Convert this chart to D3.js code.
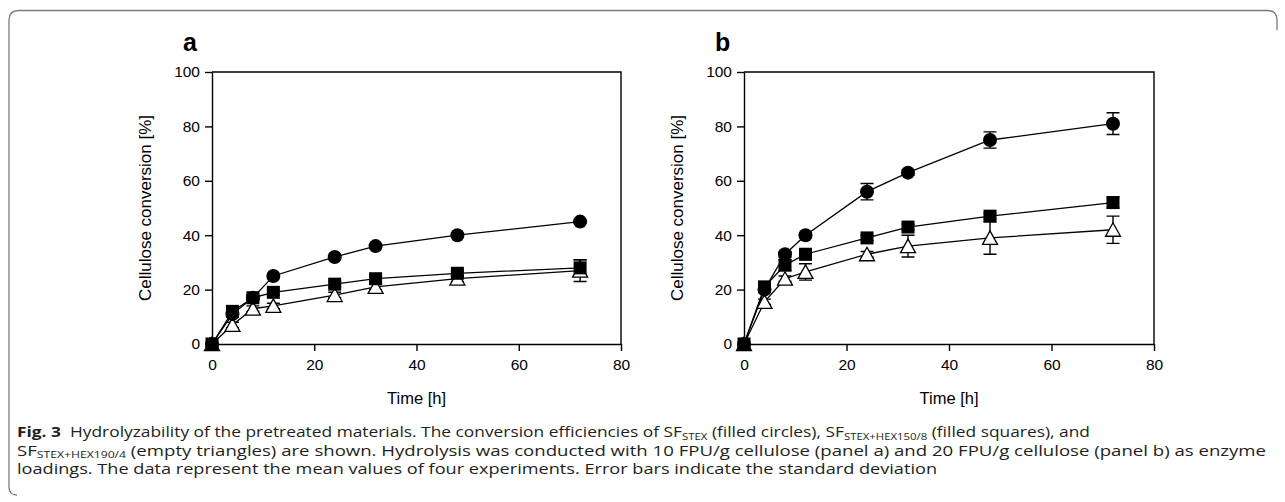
<!DOCTYPE html>
<html><head><meta charset="utf-8">
<script src="https://cdn.jsdelivr.net/npm/d3@7/dist/d3.min.js"></script>
<style>
html,body{margin:0;padding:0;background:#fff;}
svg{display:block;}
</style></head>
<body>
<svg id="c" width="1285" height="502"></svg>
<script>
const times = [0, 4, 8, 12, 24, 32, 48, 72];
const xTicks = [0, 20, 40, 60, 80];
const yTicks = [0, 20, 40, 60, 80, 100];

// Panel a (10 FPU/g)
const aCircle    = [0, 11, 17, 25, 32, 36, 40, 45];
const aCircleErr = [0, 0.5, 0.5, 0.5, 0.5, 0.5, 0.5, 0.5];
const aSquare    = [0, 12, 17, 19, 22, 24, 26, 28];
const aSquareErr = [0, 1, 1, 1, 1, 1, 1, 3];
const aTri       = [0, 7, 13, 14, 18, 21, 24, 27];
const aTriErr    = [0, 1, 1, 1, 1, 1, 1, 4];

// Panel b (20 FPU/g)
const bCircle    = [0, 20, 33, 40, 56, 63, 75, 81];
const bCircleErr = [0, 1, 1, 1, 3, 1, 3, 4];
const bSquare    = [0, 21, 29, 33, 39, 43, 47, 52];
const bSquareErr = [0, 1, 2, 2, 1, 1, 1, 2];
const bTri       = [0, 15.5, 24, 26.5, 33, 36, 39, 42];
const bTriErr    = [0, 1, 1, 3, 1, 4, 6, 5];

const panelLabels = ["a", "b"];
const xTitle = "Time [h]";
const yTitle = "Cellulose conversion [%]";

const svg = d3.select("#c");
const AX = "Liberation Sans, Arial, sans-serif";

// outer rounded border (left + top)
svg.append("path")
  .attr("d", "M 17 495 Q 9 495 9 487 L 9 20 Q 9 10.5 19 10.5 L 1267 10.5 Q 1277 10.5 1277 20 L 1277 30")
  .attr("fill", "none").attr("stroke", "#7a7a7a").attr("stroke-width", 1.3);

function panel(x0, x1, label, series) {
  const yTop = 72, yBot = 344;
  const x = d3.scaleLinear().domain([0, 80]).range([x0, x1]);
  const y = d3.scaleLinear().domain([0, 100]).range([yBot, yTop]);
  const g = svg.append("g");

  // box top and right
  g.append("path").attr("d", `M ${x0} ${yTop} H ${x1} V ${yBot}`)
    .attr("fill", "none").attr("stroke", "#000").attr("stroke-width", 1.4);

  const xa = g.append("g").attr("transform", `translate(0,${yBot})`)
    .call(d3.axisBottom(x).tickValues(xTicks).tickSize(7).tickPadding(8).tickSizeOuter(0));
  const ya = g.append("g").attr("transform", `translate(${x0},0)`)
    .call(d3.axisLeft(y).tickValues(yTicks).tickSize(7).tickPadding(5).tickSizeOuter(0));
  [xa, ya].forEach(a => {
    a.select(".domain").attr("stroke", "#000").attr("stroke-width", 1.4);
    a.selectAll(".tick line").attr("stroke", "#000").attr("stroke-width", 1.4);
    a.selectAll("text").attr("font-family", AX).attr("font-size", 15.5).attr("fill", "#000");
  });

  g.append("text").attr("x", (x0 + x1) / 2).attr("y", 404)
    .attr("text-anchor", "middle").attr("font-family", AX).attr("font-size", 16.5)
    .text(xTitle);
  g.append("text").attr("transform", `translate(${x0 - 61},${(yTop + yBot) / 2}) rotate(-90)`)
    .attr("text-anchor", "middle").attr("font-family", AX).attr("font-size", 17)
    .text(yTitle);
  g.append("text").attr("x", x0 - 29).attr("y", 51)
    .attr("font-family", AX).attr("font-weight", "bold").attr("font-size", 25)
    .text(label);

  const line = d3.line().x(d => x(d.t)).y(d => y(d.v));
  series.forEach(s => {
    const pts = times.map((t, i) => ({ t, v: s.vals[i], e: s.err[i] }));
    s.pts = pts;
    g.append("path").datum(pts).attr("d", line)
      .attr("fill", "none").attr("stroke", "#000").attr("stroke-width", 1.3);
  });
  series.forEach(s => {
    s.pts.forEach(p => {
      if (p.e <= 0) return;
      const cx = x(p.t), ya1 = y(p.v + p.e), yb1 = y(p.v - p.e);
      g.append("path").attr("d", `M ${cx} ${ya1} V ${yb1} M ${cx - 6.5} ${ya1} H ${cx + 6.5} M ${cx - 6.5} ${yb1} H ${cx + 6.5}`)
        .attr("fill", "none").attr("stroke", "#000").attr("stroke-width", 1.4);
    });
  });
  series.forEach(s => {
    s.pts.forEach(p => {
      const cx = x(p.t), cy = y(p.v);
      if (s.shape === "circle") {
        g.append("circle").attr("cx", cx).attr("cy", cy).attr("r", 7).attr("fill", "#000");
      } else if (s.shape === "square") {
        g.append("rect").attr("x", cx - 6.5).attr("y", cy - 6.5).attr("width", 13).attr("height", 13).attr("fill", "#000");
      } else {
        g.append("path").attr("d", `M ${cx} ${cy - 7} L ${cx + 7.5} ${cy + 6.5} L ${cx - 7.5} ${cy + 6.5} Z`)
          .attr("fill", "#fff").attr("stroke", "#000").attr("stroke-width", 1.3);
      }
    });
  });
}

panel(212, 621, panelLabels[0], [
  { shape: "tri", vals: aTri, err: aTriErr },
  { shape: "circle", vals: aCircle, err: aCircleErr },
  { shape: "square", vals: aSquare, err: aSquareErr }
]);
panel(744, 1154, panelLabels[1], [
  { shape: "tri", vals: bTri, err: bTriErr },
  { shape: "circle", vals: bCircle, err: bCircleErr },
  { shape: "square", vals: bSquare, err: bSquareErr }
]);

// caption
const CF = "Open Sans, sans-serif";
const capLines = [
  { y: 437, len: 1073, parts: [
    { t: "Fig. 3", b: true }, { t: "\u00a0 Hydrolyzability of the pretreated materials. The conversion efficiencies of SF" },
    { t: "STEX", sub: true }, { t: " (filled circles), SF" }, { t: "STEX+HEX150/8", sub: true },
    { t: " (filled squares), and" } ] },
  { y: 455.5, len: 1249, parts: [
    { t: "SF" }, { t: "STEX+HEX190/4", sub: true },
    { t: " (empty triangles) are shown. Hydrolysis was conducted with 10 FPU/g cellulose (panel a) and 20 FPU/g cellulose (panel b) as enzyme" } ] },
  { y: 474, len: 920, parts: [
    { t: "loadings. The data represent the mean values of four experiments. Error bars indicate the standard deviation" } ] }
];
capLines.forEach(L => {
  const tx = svg.append("text").attr("x", 17).attr("y", L.y)
    .attr("font-family", CF).attr("font-size", 14.5).attr("fill", "#231f20")
    .attr("textLength", L.len).attr("lengthAdjust", "spacingAndGlyphs");
  let shifted = false;
  L.parts.forEach(p => {
    const ts = tx.append("tspan").text(p.t);
    if (p.b) ts.attr("font-weight", "bold");
    if (p.sub) { ts.attr("font-size", 9.5).attr("dy", 2.5); shifted = true; }
    else if (shifted) { ts.attr("dy", -2.5); shifted = false; }
  });
});
</script>
</body></html>
